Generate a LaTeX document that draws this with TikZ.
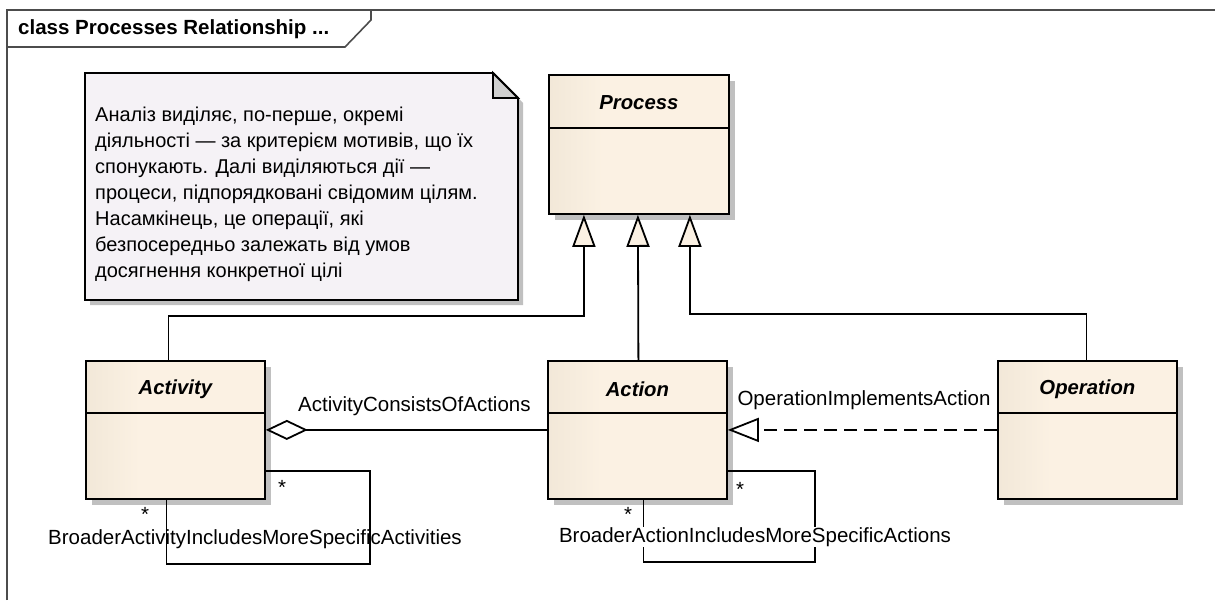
\documentclass[tikz,border=0pt]{standalone}
\usepackage{fontspec}
\setmainfont{Liberation Sans}
\usetikzlibrary{arrows.meta,shadows}

\definecolor{classL}{RGB}{228,218,200}
\definecolor{classR}{RGB}{251,241,227}
\definecolor{noteFill}{RGB}{245,242,246}
\definecolor{foldFill}{RGB}{208,208,208}
\definecolor{shadowGray}{RGB}{192,192,192}

\pgfdeclarehorizontalshading{classShade}{100bp}{color(0bp)=(classL); color(8bp)=(classL!85!classR); color(40bp)=(classR); color(100bp)=(classR)}

\tikzset{
  classbox/.style={draw, line width=1.8pt, inner sep=0pt, anchor=north west,
    minimum width=179pt, minimum height=138pt,
    shading=classShade,
    drop shadow={shadow xshift=6pt, shadow yshift=-6pt, fill=shadowGray, opacity=1}},
  classname/.style={font=\fontsize{20.3}{24}\selectfont\bfseries\itshape},
  lbl/.style={font=\fontsize{20.5}{24}\selectfont, inner sep=1pt},
  conn/.style={line width=1.8pt},
  genline/.style={conn, -{Triangle[length=32pt, width=23pt, fill=classR]}},
}

\begin{document}
\begin{tikzpicture}[x=1pt, y=-1pt]
\useasboundingbox (0,0) rectangle (1215,600);

% --- Frame ---
\draw[line width=1.6pt, black!70] (7,600) -- (7,10) -- (1215,10);
\draw[line width=1.6pt, black!70] (7,47) -- (345,47) -- (371,20) -- (371,10);
\node[anchor=west, font=\fontsize{20.5}{24}\selectfont\bfseries, inner sep=0pt] (title) at (18,29) {class Processes Relationship ...};

% --- Note ---
\fill[shadowGray] (90,78) -- (498,78) -- (523,103) -- (523,305) -- (90,305) -- cycle;
\filldraw[fill=noteFill, line width=1.8pt] (85,73) -- (493,73) -- (518,98) -- (518,300) -- (85,300) -- cycle;
\filldraw[fill=foldFill, line width=1.8pt] (493,73) -- (518,98) -- (493,98) -- cycle;
\node[anchor=north west, align=left, inner sep=0pt, font=\fontsize{20}{26}\selectfont] (note) at (95,107)
  {Аналіз виділяє, по-перше, окремі\\
   діяльності — за критерієм мотивів, що їх\\
   спонукають. Далі виділяються дії —\\
   процеси, підпорядковані свідомим цілям.\\
   Насамкінець, це операції, які\\
   безпосередньо залежать від умов\\
   досягнення конкретної цілі};

% --- Classes ---
\node[classbox, minimum width=180pt, minimum height=139pt] (process) at (548,74) {};
\node[classbox] (activity) at (85,360) {};
\node[classbox] (action) at (547,360) {};
\node[classbox] (operation) at (997,360) {};

\draw[line width=1.8pt] ([yshift=-54pt]process.north west) -- ([yshift=-54pt]process.north east);
\foreach \c in {activity,action,operation} {
  \draw[line width=1.8pt] ([yshift=-53pt]\c.north west) -- ([yshift=-53pt]\c.north east);
}

\node[classname] (processName) at ([yshift=-29pt]process.north) {Process};
\node[classname] (activityName) at ([yshift=-29pt]activity.north) {Activity};
\node[classname] (actionName) at ([yshift=-29pt]action.north) {Action};
\node[classname] (operationName) at ([yshift=-29pt]operation.north) {Operation};

% --- Generalizations ---
\draw[genline] ([xshift=-7pt]activity.north) -- ++(0,-44) -| ([xshift=-55pt]process.south);
\draw[genline] ([xshift=1pt]action.north) -- ([xshift=-1pt]process.south);
\draw[genline] ([xshift=-1pt]operation.north) -- ++(0,-46) -| ([xshift=51pt]process.south);

% --- Aggregation ---
\draw[conn, {Diamond[length=42pt, width=20pt, fill=white]}-] (activity.east) -- (action.west)
  node[lbl, midway, above=12pt, xshift=8pt] (consists) {ActivityConsistsOfActions};

% --- Realization ---
\draw[conn, dash pattern=on 13pt off 7pt, -{Triangle[length=31pt, width=24pt, fill=white]}] (operation.west) -- (action.east);
\node[lbl, fill=white] (implements) at (864,400) {OperationImplementsAction};

% --- Self associations ---
\draw[conn] ([yshift=29pt]activity.south east) -- ++(104,0) -- ++(0,93) -| ([xshift=-9pt]activity.south);
\node[lbl] (actStarA) at (282,487) {*};
\node[lbl] (actStarB) at (145,514) {*};
\node[lbl] (actIncl) at (255,539) {BroaderActivityIncludesMoreSpecificActivities};

\draw[conn] ([yshift=29pt]action.south east) -- ++(87,0) -- ++(0,91) -| ([xshift=6pt]action.south);
\node[lbl] (actnStarA) at (740,489) {*};
\node[lbl] (actnStarB) at (628,514) {*};
\node[lbl, fill=white, inner sep=0pt] (actnIncl) at (755,537) {BroaderActionIncludesMoreSpecificActions};

\end{tikzpicture}
\end{document}
